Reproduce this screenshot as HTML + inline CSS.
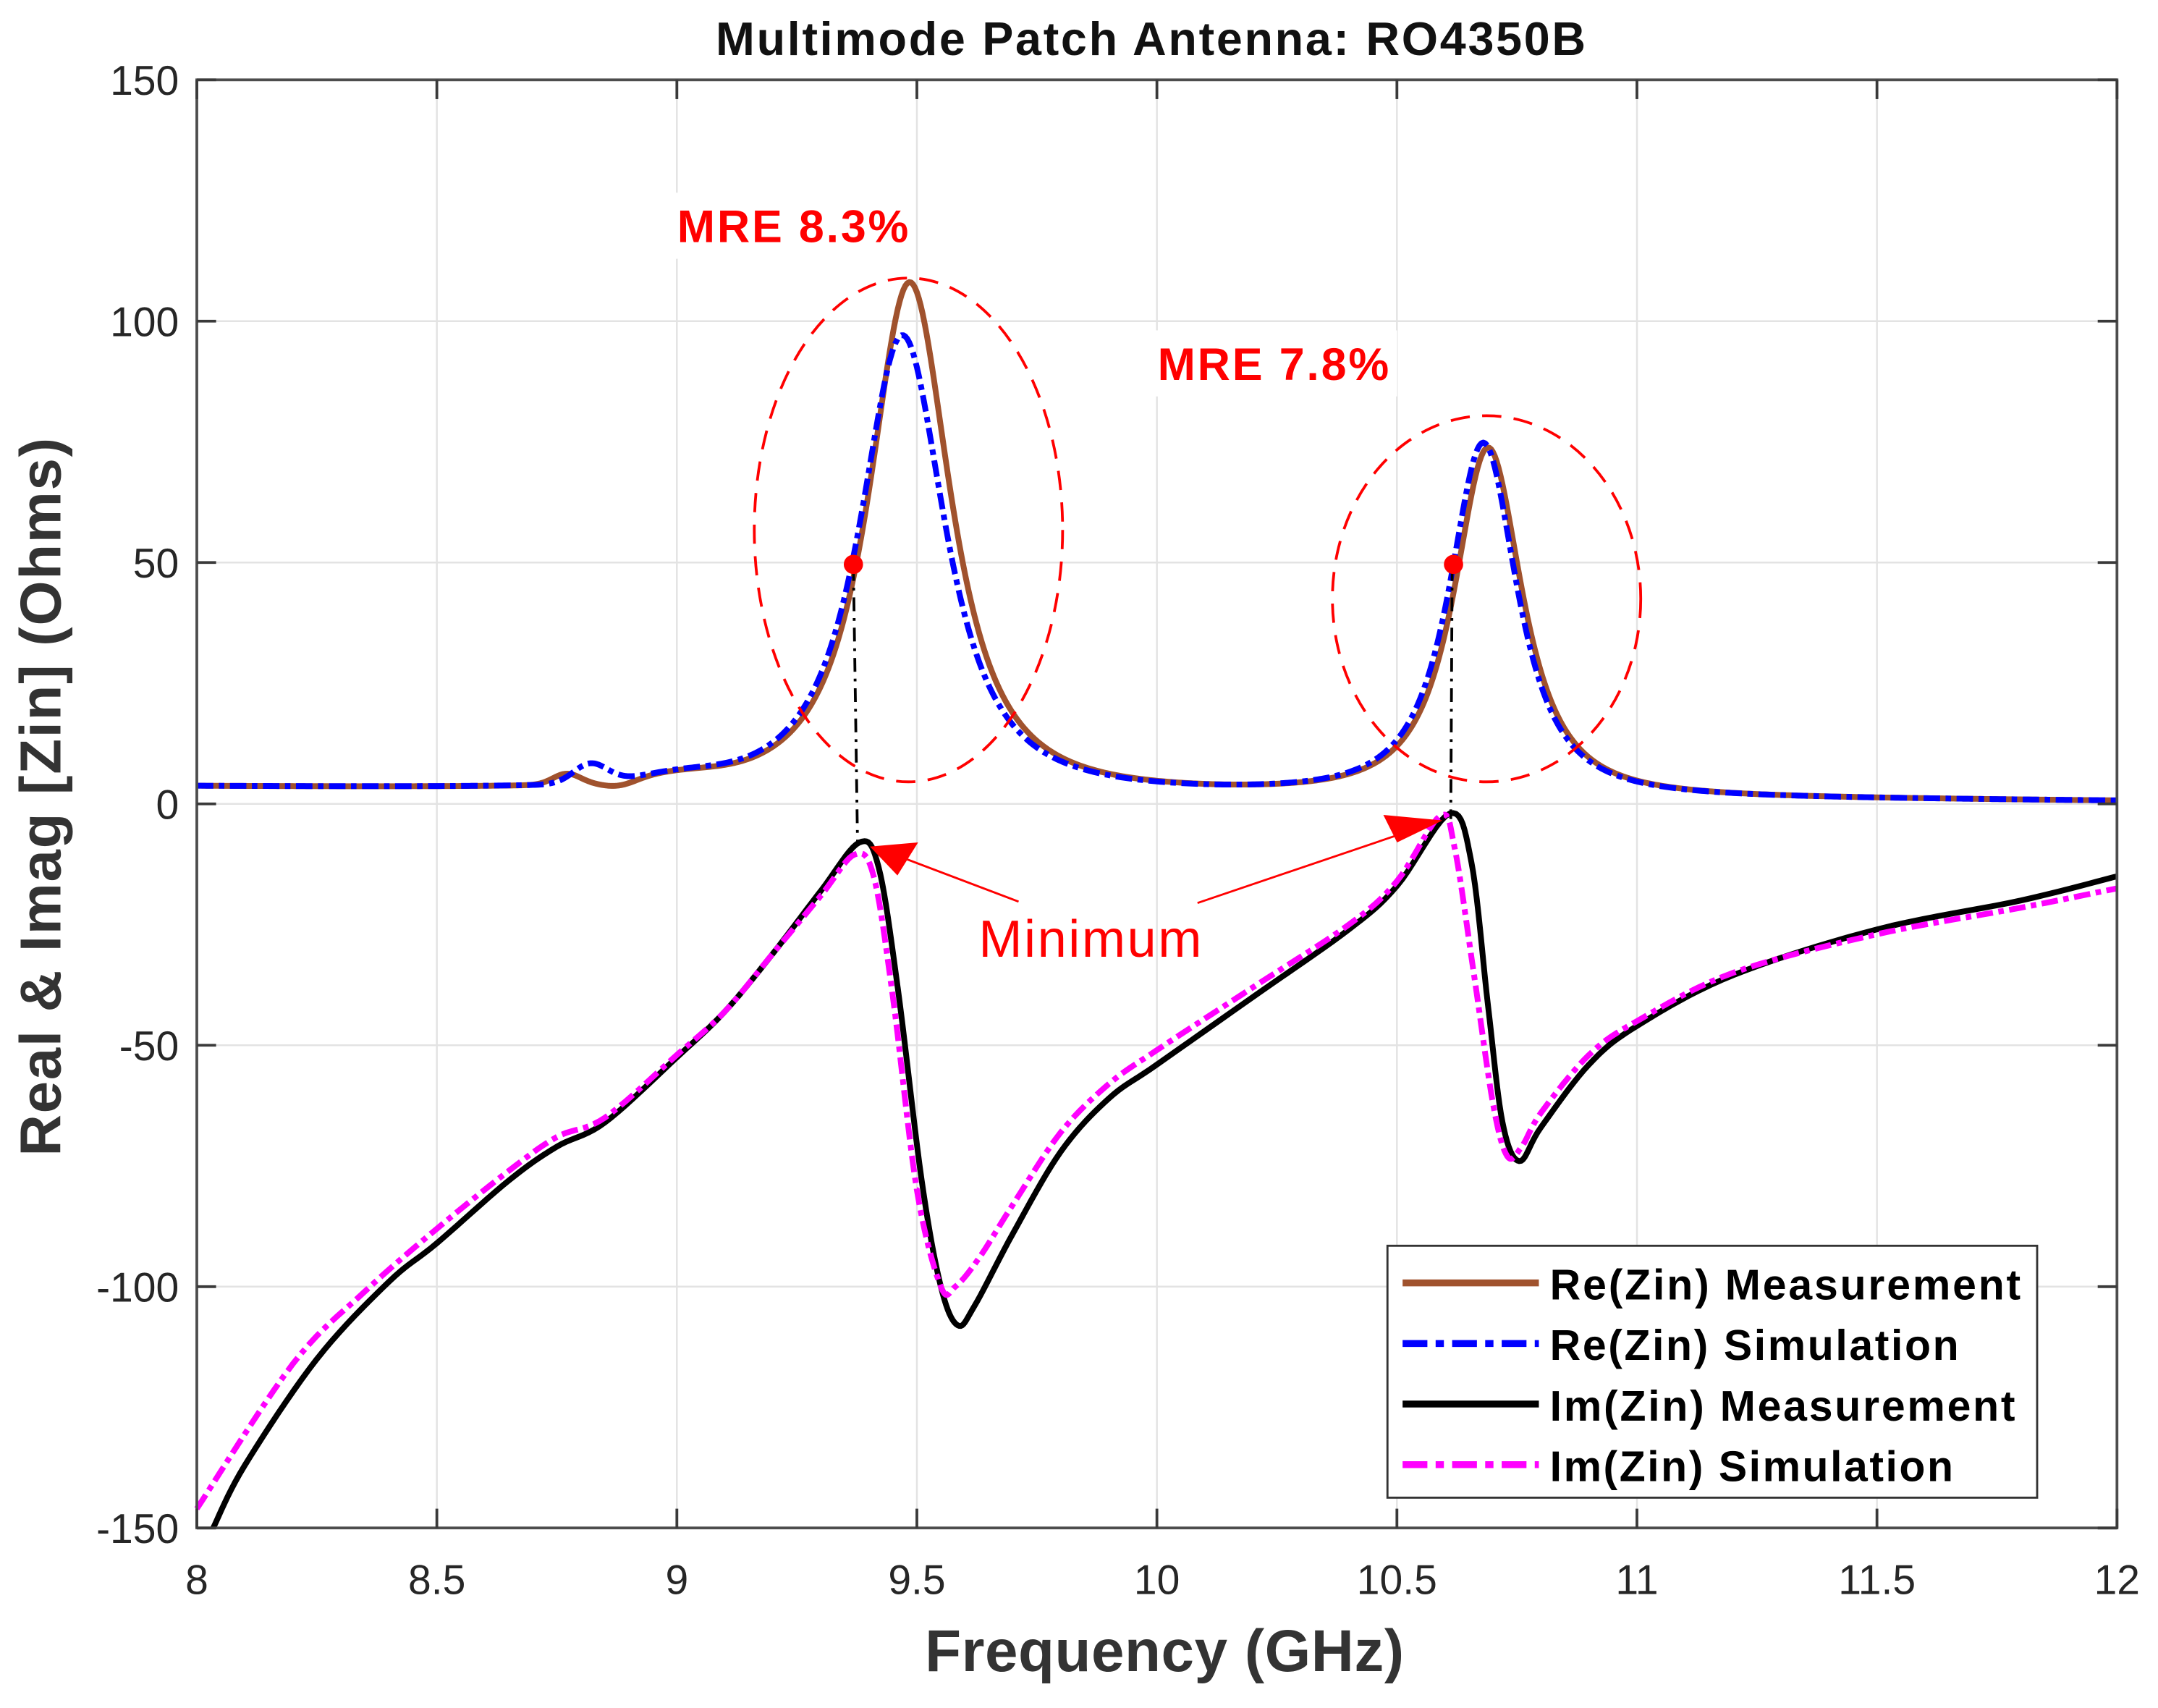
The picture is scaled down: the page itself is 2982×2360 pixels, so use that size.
<!DOCTYPE html>
<html><head><meta charset="utf-8"><style>html,body{margin:0;padding:0;background:#fff}svg{display:block}</style></head>
<body>
<svg id="s" width="2982" height="2360" viewBox="0 0 1567.8 1240.8" preserveAspectRatio="none" xmlns="http://www.w3.org/2000/svg" font-family="Liberation Sans, Arial, sans-serif">
<rect x="0" y="0" width="1567.8" height="1240.8" fill="#fff"/>
<g id="grid" stroke="#e3e3e3" stroke-width="1.3"></g>
<rect x="488" y="140" width="176" height="48" fill="#fff"/>
<rect x="835" y="240" width="180" height="48" fill="#fff"/>
<g id="curves" fill="none" stroke-linejoin="round"></g>
<g fill="none" stroke="#ff0000" stroke-width="2" stroke-dasharray="14,9">
<ellipse cx="660" cy="385" rx="112" ry="183"/>
<ellipse cx="1080" cy="435" rx="112" ry="133"/>
</g>
<g stroke="#000" stroke-width="2" stroke-dasharray="10,5,2,5">
<line x1="620" y1="412" x2="623" y2="612"/>
<line x1="1055" y1="412" x2="1054" y2="595"/>
</g>
<circle cx="620" cy="410" r="7" fill="#ff0000"/>
<circle cx="1056" cy="410" r="7" fill="#ff0000"/>
<g stroke="#ff0000" stroke-width="1.5">
<line x1="740" y1="655" x2="645" y2="619"/>
<line x1="870" y1="656" x2="1035" y2="600"/>
</g>
<polygon points="632,615 667,612 652,636" fill="#ff0000"/>
<polygon points="1048,596 1015,612 1005,592" fill="#ff0000"/>
<text x="711" y="695" font-size="38" fill="#ff0000" textLength="162">Minimum</text>
<text x="492" y="176" font-size="33" font-weight="bold" fill="#ff0000" textLength="168">MRE 8.3%</text>
<text x="841" y="276" font-size="33" font-weight="bold" fill="#ff0000" textLength="168">MRE 7.8%</text>
<rect x="143" y="58" width="1395" height="1052" fill="none" stroke="#4d4d4d" stroke-width="2"/>
<g id="ticks" stroke="#3a3a3a" stroke-width="2"></g>
<g id="lbl" font-size="30" fill="#262626"></g>
<text x="520" y="40" font-size="34" font-weight="bold" fill="#111" textLength="632">Multimode Patch Antenna: RO4350B</text>
<text x="672" y="1214" font-size="43" font-weight="bold" fill="#333" textLength="348">Frequency (GHz)</text>
<text transform="translate(44,840) rotate(-90)" font-size="42" font-weight="bold" fill="#333" textLength="522">Real &amp; Imag [Zin] (Ohms)</text>
<rect x="1008" y="905" width="472" height="183" fill="#fff" stroke="#333" stroke-width="1.5"/>
<line x1="1019" y1="932" x2="1118" y2="932" stroke="#a0522d" stroke-width="5"/>
<line x1="1019" y1="976" x2="1118" y2="976" stroke="#0000ff" stroke-width="5" stroke-dasharray="18,6,6,6"/>
<line x1="1019" y1="1020" x2="1118" y2="1020" stroke="#000" stroke-width="5"/>
<line x1="1019" y1="1064" x2="1118" y2="1064" stroke="#ff00ff" stroke-width="5" stroke-dasharray="18,6,6,6"/>
<g font-size="31" font-weight="bold" fill="#000">
<text x="1126" y="944" textLength="342">Re(Zin) Measurement</text>
<text x="1126" y="988" textLength="297">Re(Zin) Simulation</text>
<text x="1126" y="1032" textLength="338">Im(Zin) Measurement</text>
<text x="1126" y="1076" textLength="293">Im(Zin) Simulation</text>
</g>
</svg>
<script>
(function(){
var NS="http://www.w3.org/2000/svg";
function X(f){return 143+(f-8)*348.75;}
function Y(v){return 584-v*3.507;}
function el(p,t,a){var e=document.createElementNS(NS,t);for(var k in a)e.setAttribute(k,a[k]);document.getElementById(p).appendChild(e);return e;}
for(var i=0;i<=8;i++){var f=8+i*0.5,x=X(f);
 if(i>0&&i<8)el("grid","line",{x1:x,y1:58,x2:x,y2:1110});
 el("ticks","line",{x1:x,y1:1110,x2:x,y2:1096});el("ticks","line",{x1:x,y1:58,x2:x,y2:72});
 var t=el("lbl","text",{x:x,y:1158,"text-anchor":"middle"});t.textContent=(f%1==0?f.toFixed(0):f.toFixed(1));}
for(var v=-150;v<=150;v+=50){var y=Y(v);
 if(v>-150&&v<150)el("grid","line",{x1:143,y1:y,x2:1538,y2:y});
 el("ticks","line",{x1:143,y1:y,x2:157,y2:y});el("ticks","line",{x1:1538,y1:y,x2:1524,y2:y});
 var t=el("lbl","text",{x:130,y:y+11,"text-anchor":"end"});t.textContent=String(v);}
function lor(f,f0,A,w){var u=(f-f0)/w;return A/Math.pow(1+u*u,1.3);}
function g(f,f0,A,s){var u=(f-f0)/s;return A*Math.exp(-u*u);}
function base(f){return 3.6-0.75*(f-8);}
function reSim(f){return Math.max(0.3,base(f))+lor(f,9.47,94.5,0.125)+lor(f,10.68,73,0.1)+g(f,8.82,4,0.05)+g(f,9.0,1.5,0.12);}
function reMeas(f){return Math.max(0.3,base(f))+lor(f,9.485,105.5,0.12)+lor(f,10.69,72,0.1)+g(f,8.77,2.2,0.04)-g(f,8.88,1.2,0.05)+g(f,9.0,1.5,0.12);}
function spline(pts,step){var out=[];for(var i=0;i<pts.length-1;i++){var p0=pts[Math.max(0,i-1)],p1=pts[i],p2=pts[i+1],p3=pts[Math.min(pts.length-1,i+2)];
 for(var t=0;t<1;t+=step){var t2=t*t,t3=t2*t;
  var x=0.5*((2*p1[0])+(-p0[0]+p2[0])*t+(2*p0[0]-5*p1[0]+4*p2[0]-p3[0])*t2+(-p0[0]+3*p1[0]-3*p2[0]+p3[0])*t3);
  var y=0.5*((2*p1[1])+(-p0[1]+p2[1])*t+(2*p0[1]-5*p1[1]+4*p2[1]-p3[1])*t2+(-p0[1]+3*p1[1]-3*p2[1]+p3[1])*t3);
  out.push([x,y]);}}out.push(pts[pts.length-1]);return out;}
var imSim=[[8,-146],[8.2,-116],[8.35,-101],[8.5,-88],[8.65,-76],[8.75,-69],[8.85,-65],[9,-52],[9.1,-43],[9.2,-31],[9.3,-19],[9.37,-10.5],[9.41,-15],[9.45,-40],[9.5,-80],[9.55,-100],[9.58,-100],[9.63,-94],[9.7,-83],[9.8,-68],[9.9,-58],[10,-51],[10.2,-38],[10.4,-25],[10.5,-16],[10.59,-2.5],[10.62,-9],[10.66,-35],[10.7,-62],[10.73,-73],[10.76,-71],[10.8,-64],[10.9,-52],[11,-45],[11.2,-35],[11.5,-27],[11.8,-21.5],[12,-17.5]];
var imMeas=[[8.034,-150],[8.1,-137],[8.25,-115],[8.4,-99],[8.5,-91],[8.65,-78],[8.75,-71],[8.85,-66],[9,-52.5],[9.1,-43],[9.2,-31],[9.3,-18],[9.38,-8],[9.42,-13],[9.46,-38],[9.51,-78],[9.55,-100],[9.585,-108],[9.62,-104],[9.7,-89],[9.8,-72],[9.9,-61],[10,-54],[10.2,-40],[10.4,-26],[10.5,-17],[10.61,-2],[10.655,-12],[10.69,-42],[10.72,-66],[10.755,-74],[10.8,-67],[10.9,-54],[11,-46],[11.2,-35.5],[11.5,-26],[11.8,-20],[12,-15]];
function pathFromPts(p){return "M"+p.map(function(q){return X(q[0]).toFixed(2)+","+Y(q[1]).toFixed(2);}).join("L");}
function fnPts(fn){var p=[];for(var f=8;f<=12.0001;f+=0.004)p.push([f,fn(f)]);return p;}
var dd="12,4,4,4";
el("curves","path",{d:pathFromPts(fnPts(reMeas)),stroke:"#a0522d","stroke-width":4.2});
el("curves","path",{d:pathFromPts(fnPts(reSim)),stroke:"#0000ff","stroke-width":4.2,"stroke-dasharray":dd});
el("curves","path",{d:pathFromPts(spline(imMeas,0.1)),stroke:"#000","stroke-width":4.2});
el("curves","path",{d:pathFromPts(spline(imSim,0.1)),stroke:"#ff00ff","stroke-width":4.2,"stroke-dasharray":dd});
})();
</script>
</body></html>
